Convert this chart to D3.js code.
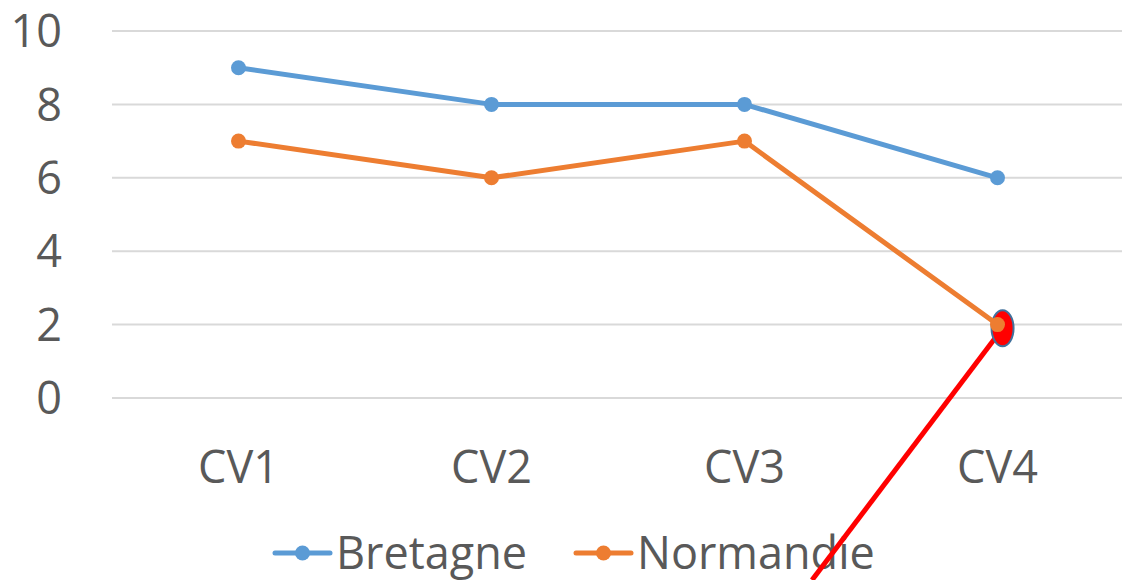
<!DOCTYPE html>
<html>
<head>
<meta charset="utf-8">
<script src="https://cdn.jsdelivr.net/npm/d3@7"></script>
<style>
  body { margin: 0; background: #fff; }
  text { font-family: "Open Sans", sans-serif; fill: #595959; }
</style>
</head>
<body>
<svg id="canvas" width="1122" height="580"></svg>
<script>
// chart data
let categories = ['CV1', 'CV2', 'CV3', 'CV4']
let bretagne = [9, 8, 8, 6]
let normandie = [7, 6, 7, 2]
let yTicks = [0, 2, 4, 6, 8, 10]
let seriesNames = ['Bretagne', 'Normandie']
let seriesColors = ['#5B9BD5', '#ED7D31']

// hand-drawn annotation (circle on CV4 + red stroke going down)
let annoCircle = { index: 3.02, value: 1.9 }
let annoLineEnd = { index: 2.267, value: -4.96 }

let canvas = d3.select('#canvas')

let left = 112
let right = 1124
let xScale = d3.scaleBand().domain(categories).range([left, right])
let xIndex = d3.scaleLinear().domain([0, 3])
    .range([xScale('CV1') + xScale.bandwidth() / 2, xScale('CV4') + xScale.bandwidth() / 2])
let yScale = d3.scaleLinear().domain([0, 10]).range([398, 31])

// gridlines
canvas.append('g')
    .selectAll('line')
    .data(yTicks)
    .enter()
    .append('line')
    .attr('x1', left)
    .attr('x2', 1122)
    .attr('y1', (d) => yScale(d))
    .attr('y2', (d) => yScale(d))
    .attr('stroke', '#D9D9D9')
    .attr('stroke-width', 2)

// y axis labels
let yAxis = d3.axisLeft(yScale).tickValues(yTicks).tickSize(0).tickPadding(0)
let yg = canvas.append('g').attr('transform', 'translate(62,0)').call(yAxis)
yg.select('.domain').remove()
yg.selectAll('text')
    .attr('font-size', 45)
    .attr('font-family', '"Open Sans", sans-serif')
    .attr('fill', '#595959')
    .attr('dy', '0.35em')

// x axis labels
let xAxis = d3.axisBottom(xScale).tickSize(0).tickPadding(0)
let xg = canvas.append('g').attr('transform', 'translate(0,483)').call(xAxis)
xg.select('.domain').remove()
xg.selectAll('text')
    .attr('font-size', 45)
    .attr('font-family', '"Open Sans", sans-serif')
    .attr('fill', '#595959')
    .attr('dy', 0)

// legend
let legendX = [275, 576]
let legend = canvas.append('g')
    .selectAll('g')
    .data(seriesNames)
    .enter()
    .append('g')
    .attr('transform', (d, i) => 'translate(' + legendX[i] + ',553)')
legend.append('line')
    .attr('x1', 0).attr('x2', 55)
    .attr('stroke', (d, i) => seriesColors[i])
    .attr('stroke-width', 5)
    .attr('stroke-linecap', 'round')
legend.append('circle')
    .attr('cx', 27.5)
    .attr('r', 7.5)
    .attr('fill', (d, i) => seriesColors[i])
legend.append('text')
    .attr('x', 61)
    .attr('y', 16)
    .attr('font-size', 45)
    .text((d) => d)

// annotation
canvas.append('line')
    .attr('x1', xIndex(annoCircle.index))
    .attr('y1', yScale(annoCircle.value))
    .attr('x2', xIndex(annoLineEnd.index))
    .attr('y2', yScale(annoLineEnd.value))
    .attr('stroke', '#FF0000')
    .attr('stroke-width', 5)
canvas.append('ellipse')
    .attr('cx', xIndex(annoCircle.index))
    .attr('cy', yScale(annoCircle.value))
    .attr('rx', 11)
    .attr('ry', 18)
    .attr('fill', '#FF0000')
    .attr('stroke', '#41719C')
    .attr('stroke-width', 2)

// series
let center = (c) => xScale(c) + xScale.bandwidth() / 2
let line = d3.line()
    .x((d, i) => center(categories[i]))
    .y((d) => yScale(d))

let allSeries = [bretagne, normandie]
allSeries.forEach((values, s) => {
    canvas.append('path')
        .datum(values)
        .attr('d', line)
        .attr('fill', 'none')
        .attr('stroke', seriesColors[s])
        .attr('stroke-width', 5)
        .attr('stroke-linejoin', 'round')
    canvas.append('g')
        .selectAll('circle')
        .data(values)
        .enter()
        .append('circle')
        .attr('cx', (d, i) => center(categories[i]))
        .attr('cy', (d) => yScale(d))
        .attr('r', 7.5)
        .attr('fill', seriesColors[s])
})
</script>
</body>
</html>
